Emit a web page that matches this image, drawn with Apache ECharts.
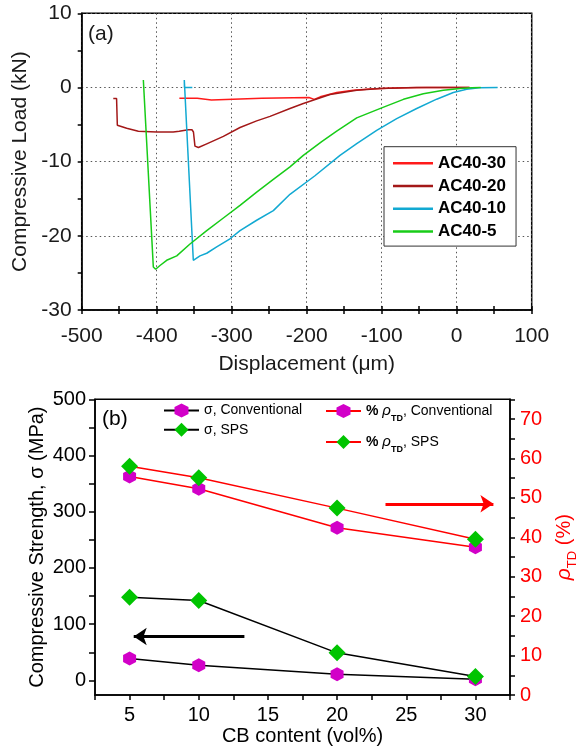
<!DOCTYPE html>
<html>
<head>
<meta charset="utf-8">
<script src="https://cdn.jsdelivr.net/npm/echarts@6/dist/echarts.min.js"></script>
<style>
  html, body { margin: 0; padding: 0; background: #ffffff; }
  #chart { width: 578px; height: 750px; }
</style>
</head>
<body>
<div id="chart"></div>
<script>
// ---- (a) load–displacement curves: [displacement µm, load kN] ----
const ac40_30 = [
  [-369.8, -1.45], [-346, -1.45], [-345, -1.7], [-327, -1.7], [-326, -1.45], [-260, -1.45],
  [-259, -1.3], [-197, -1.35], [-196, -1.6], [-190, -1.6], [-189, -1.35], [-182, -1.26],
  [-160, -0.68], [-138, -0.36], [-115.6, -0.2], [-93, -0.1], [-70, -0.03], [-40, 0], [0, 0], [17, 0]
];
const ac40_20 = [
  [-457.9, -1.49], [-453.5, -1.5], [-452.5, -5.1], [-451, -5.2], [-440, -5.5], [-424.5, -5.9],
  [-400, -6.0], [-378, -6.0], [-376, -5.8], [-370, -5.9], [-364, -5.8], [-358, -5.7],
  [-353, -5.7], [-351, -6.0], [-349, -7.9], [-344.4, -8.1], [-333.3, -7.6], [-311.1, -6.6],
  [-288.9, -5.4], [-266.7, -4.5], [-248.9, -3.9], [-222.3, -2.84], [-204.5, -2.16],
  [-168.9, -0.95], [-133.3, -0.36], [-102.3, -0.14], [-53.3, -0.02], [0, 0], [17, 0]
];
const ac40_10 = [
  [-352.5, 0], [-363, 0], [-363.2, 1.0], [-351.2, -23.3], [-349, -23.5], [-342.3, -22.7],
  [-333.3, -22.35], [-320, -21.5], [-302.3, -20.4], [-288.9, -19.3], [-266.7, -17.9],
  [-244.5, -16.6], [-222.3, -14.4], [-189, -11.9], [-155.6, -9.15], [-133.3, -7.57],
  [-106.7, -5.77], [-80, -4.19], [-53.3, -2.84], [-26.7, -1.58], [-4.5, -0.68],
  [13.3, -0.23], [30, -0.05], [54.5, 0]
];
const ac40_5 = [
  [-417.8, 1.0], [-404.5, -24.2], [-401.4, -24.5], [-395.6, -24.0], [-386.7, -23.3],
  [-373.3, -22.7], [-355.6, -21.1], [-333.3, -19.3], [-311.1, -17.6], [-288.9, -15.9],
  [-266.7, -14.1], [-244.5, -12.4], [-222.3, -10.7], [-204.5, -9.15], [-180, -7.3],
  [-160, -5.9], [-133.3, -4.1], [-100, -2.75], [-71, -1.6], [-44.5, -0.85], [-17.8, -0.36],
  [4.4, -0.14], [20, -0.04], [32, 0]
];

// ---- (b) strength and relative density vs. carbon black content ----
const cbContent = [5, 10, 20, 30];
const sigmaConventional = [39, 27, 11, 2];
const sigmaSPS = [148, 142, 49, 7];
const rhoConventional = [55.4, 52.3, 42.4, 37.5];
const rhoSPS = [58.0, 55.1, 47.4, 39.5];

// tick labels
const loadTicks = [-30, -20, -10, 0, 10];
const strengthLabels = [0, 100, 200, 300, 400, 500];
const strengthTicks = [0, 50, 100, 150, 200, 250, 300, 350, 400, 450, 500];
const rhoLabels = [0, 10, 20, 30, 40, 50, 60, 70];
const rhoTicks = [0, 5, 10, 15, 20, 25, 30, 35, 40, 45, 50, 55, 60, 65, 70, 75];

const FONT = 'Liberation Sans, Arial, Helvetica, sans-serif';
const HEX = 'path://M0,-1L0.866,-0.5L0.866,0.5L0,1L-0.866,0.5L-0.866,-0.5Z';
const MAGENTA = '#D200C8';
const GREEN = '#00C400';
const RED = '#FF0000';

const pair = (xs, ys) => xs.map((x, i) => [x, ys[i]]);

const axisLineBlack = { onZero: false, lineStyle: { color: '#000', width: 1.5 } };
const tickBlack = { lineStyle: { color: '#000', width: 1.5 } };
const dotted = { show: true, lineStyle: { color: '#555', width: 1, type: [1.5, 3] } };

const rhoRich = {
  p: { fontFamily: FONT, fontSize: 14, fontWeight: 'bold', color: '#000' },
  i: { fontFamily: FONT, fontSize: 15, fontStyle: 'italic', color: '#000', lineHeight: 24 },
  s: { fontFamily: FONT, fontSize: 9, fontWeight: 'bold', color: '#000', verticalAlign: 'bottom', lineHeight: 10 }
};

function curve(name, data, color) {
  return {
    name, type: 'line', xAxisIndex: 0, yAxisIndex: 0, data,
    symbol: 'none', lineStyle: { color, width: 1.5 }, itemStyle: { color },
    silent: true, z: 3
  };
}

const chart = echarts.init(document.getElementById('chart'), null, { renderer: 'canvas' });

chart.setOption({
  animation: false,
  backgroundColor: '#ffffff',
  textStyle: { fontFamily: FONT },
  grid: [
    { left: 81.7, right: 46.3, top: 13.3, bottom: 440, outerBoundsMode: 'none', show: true, borderColor: '#000', borderWidth: 1.5, backgroundColor: 'transparent' },
    { left: 95, right: 68, top: 399.3, bottom: 55, outerBoundsMode: 'none', show: true, borderColor: '#000', borderWidth: 1.5, backgroundColor: 'transparent' }
  ],
  legend: [
    {
      data: ['AC40-30', 'AC40-20', 'AC40-10', 'AC40-5'],
      orient: 'vertical', left: 384, top: 146.7,
      icon: 'rect', itemWidth: 40, itemHeight: 2.5, itemGap: 5.8,
      padding: [8, 10, 6, 9],
      backgroundColor: '#ffffff', borderColor: '#333', borderWidth: 1,
      selectedMode: false,
      textStyle: { fontFamily: FONT, fontSize: 17, fontWeight: 'bold', color: '#000' }
    },
    {
      data: ['σ, Conventional', 'σ, SPS'],
      orient: 'vertical', left: 163, top: 403.5,
      itemWidth: 35, itemHeight: 17.5, itemGap: 5.2, padding: 0,
      selectedMode: false,
      textStyle: { fontFamily: FONT, fontSize: 14, color: '#000' }
    },
    {
      data: ['%ρTD, Conventional', '%ρTD, SPS'],
      orient: 'vertical', left: 325, top: 403.5,
      itemWidth: 35, itemHeight: 17.5, itemGap: 11.5, padding: 0,
      selectedMode: false,
      formatter: n => n.replace('%ρTD', '{p|%} {i|ρ}{s|TD}'),
      textStyle: { fontFamily: FONT, fontSize: 14, color: '#000', rich: rhoRich }
    }
  ],
  xAxis: [
    {
      gridIndex: 0, type: 'value', min: -500, max: 100, interval: 100, position: 'bottom',
      axisLine: axisLineBlack,
      axisTick: { length: 4, ...tickBlack },
      minorTick: { show: true, splitNumber: 2, length: 4, ...tickBlack },
      axisLabel: { fontFamily: FONT, fontSize: 21, color: '#1a1a1a', margin: 16 },
      splitLine: dotted,
      name: 'Displacement (μm)', nameLocation: 'middle', nameGap: 44, nameMoveOverlap: false,
      nameTextStyle: { fontFamily: FONT, fontSize: 21, color: '#1a1a1a' }
    },
    {
      gridIndex: 0, type: 'value', min: -500, max: 100, interval: 100, position: 'bottom',
      axisLine: { show: false, onZero: false }, axisLabel: { show: false }, splitLine: { show: false },
      axisTick: { inside: true, length: 4, ...tickBlack },
      minorTick: { show: true, splitNumber: 2, length: 4, ...tickBlack }
    },
    {
      gridIndex: 1, type: 'value', min: 2.5, max: 32.5, interval: 2.5, position: 'bottom',
      axisLine: axisLineBlack,
      axisTick: { length: 5, ...tickBlack },
      axisLabel: {
        fontFamily: FONT, fontSize: 20, color: '#000', margin: 10,
        formatter: v => (Math.abs(v % 5) < 1e-6 ? String(v) : '')
      },
      splitLine: { show: false },
      name: 'CB content (vol%)', nameLocation: 'middle', nameGap: 31, nameMoveOverlap: false,
      nameTextStyle: { fontFamily: FONT, fontSize: 20, color: '#000' }
    }
  ],
  yAxis: [
    {
      gridIndex: 0, type: 'value', min: loadTicks[0], max: loadTicks[loadTicks.length - 1], interval: 10,
      axisLine: axisLineBlack,
      axisTick: { length: 4, ...tickBlack },
      minorTick: { show: true, splitNumber: 2, length: 4, ...tickBlack },
      axisLabel: { fontFamily: FONT, fontSize: 21, color: '#1a1a1a', margin: 10 },
      splitLine: dotted,
      name: 'Compressive Load (kN)', nameLocation: 'middle', nameGap: 51, nameRotate: 90, nameMoveOverlap: false,
      nameTextStyle: { fontFamily: FONT, fontSize: 21, color: '#1a1a1a' }
    },
    {
      gridIndex: 1, type: 'value', min: -26, max: 500, position: 'left',
      axisLine: axisLineBlack,
      axisTick: { length: 6, customValues: strengthTicks, ...tickBlack },
      axisLabel: { fontFamily: FONT, fontSize: 20, color: '#000', margin: 9, customValues: strengthLabels },
      splitLine: { show: false },
      name: 'Compressive Strength, σ (MPa)', nameLocation: 'middle', nameGap: 48, nameRotate: 90, nameMoveOverlap: false,
      nameTextStyle: { fontFamily: FONT, fontSize: 20, color: '#000' }
    },
    {
      gridIndex: 1, type: 'value', min: 0, max: 75, position: 'right',
      axisLine: axisLineBlack,
      axisTick: { length: 5, customValues: rhoTicks, ...tickBlack },
      axisLabel: { fontFamily: FONT, fontSize: 20, color: RED, margin: 10, customValues: rhoLabels },
      splitLine: { show: false },
      name: '{i|ρ}{s|TD} (%)', nameLocation: 'middle', nameGap: 39, nameRotate: 90, nameMoveOverlap: false,
      nameTextStyle: {
        fontFamily: FONT, fontSize: 20, color: RED,
        rich: {
          i: { fontFamily: FONT, fontSize: 21, fontStyle: 'italic', color: RED, lineHeight: 30 },
          s: { fontFamily: FONT, fontSize: 13, color: RED, verticalAlign: 'bottom', lineHeight: 14 }
        }
      }
    }
  ],
  graphic: [
    { type: 'text', left: 88, top: 24, style: { text: '(a)', font: '21px ' + FONT, fill: '#1a1a1a' } },
    { type: 'text', left: 102, top: 409, style: { text: '(b)', font: '21px ' + FONT, fill: '#000' } }
  ],
  series: [
    curve('AC40-30', ac40_30, '#FF1A1A'),
    curve('AC40-20', ac40_20, '#A31818'),
    curve('AC40-10', ac40_10, '#12A9D2'),
    curve('AC40-5', ac40_5, '#18CC18'),
    {
      name: 'σ, Conventional', type: 'line', xAxisIndex: 2, yAxisIndex: 1,
      data: pair(cbContent, sigmaConventional),
      symbol: HEX, symbolSize: [13, 14],
      itemStyle: { color: MAGENTA }, lineStyle: { color: '#000', width: 1.5 }, silent: true
    },
    {
      name: '%ρTD, Conventional', type: 'line', xAxisIndex: 2, yAxisIndex: 2,
      data: pair(cbContent, rhoConventional),
      symbol: HEX, symbolSize: [13, 14],
      itemStyle: { color: MAGENTA }, lineStyle: { color: RED, width: 1.5 }, silent: true
    },
    {
      name: 'σ, SPS', type: 'line', xAxisIndex: 2, yAxisIndex: 1,
      data: pair(cbContent, sigmaSPS),
      symbol: 'diamond', symbolSize: [17, 17],
      itemStyle: { color: GREEN }, lineStyle: { color: '#000', width: 1.5 }, silent: true,
      markLine: {
        silent: true, symbol: ['none', 'arrow'], symbolSize: 13,
        label: { show: false }, lineStyle: { color: '#000', width: 3, type: 'solid' },
        data: [[{ coord: [13.3, 78] }, { coord: [5.3, 78] }]]
      }
    },
    {
      name: '%ρTD, SPS', type: 'line', xAxisIndex: 2, yAxisIndex: 2,
      data: pair(cbContent, rhoSPS),
      symbol: 'diamond', symbolSize: [17, 17],
      itemStyle: { color: GREEN }, lineStyle: { color: RED, width: 1.5 }, silent: true,
      markLine: {
        silent: true, symbol: ['none', 'arrow'], symbolSize: 13,
        label: { show: false }, lineStyle: { color: RED, width: 3, type: 'solid' },
        data: [[{ coord: [23.5, 48.5] }, { coord: [31.3, 48.5] }]]
      }
    }
  ]
});
</script>
</body>
</html>
